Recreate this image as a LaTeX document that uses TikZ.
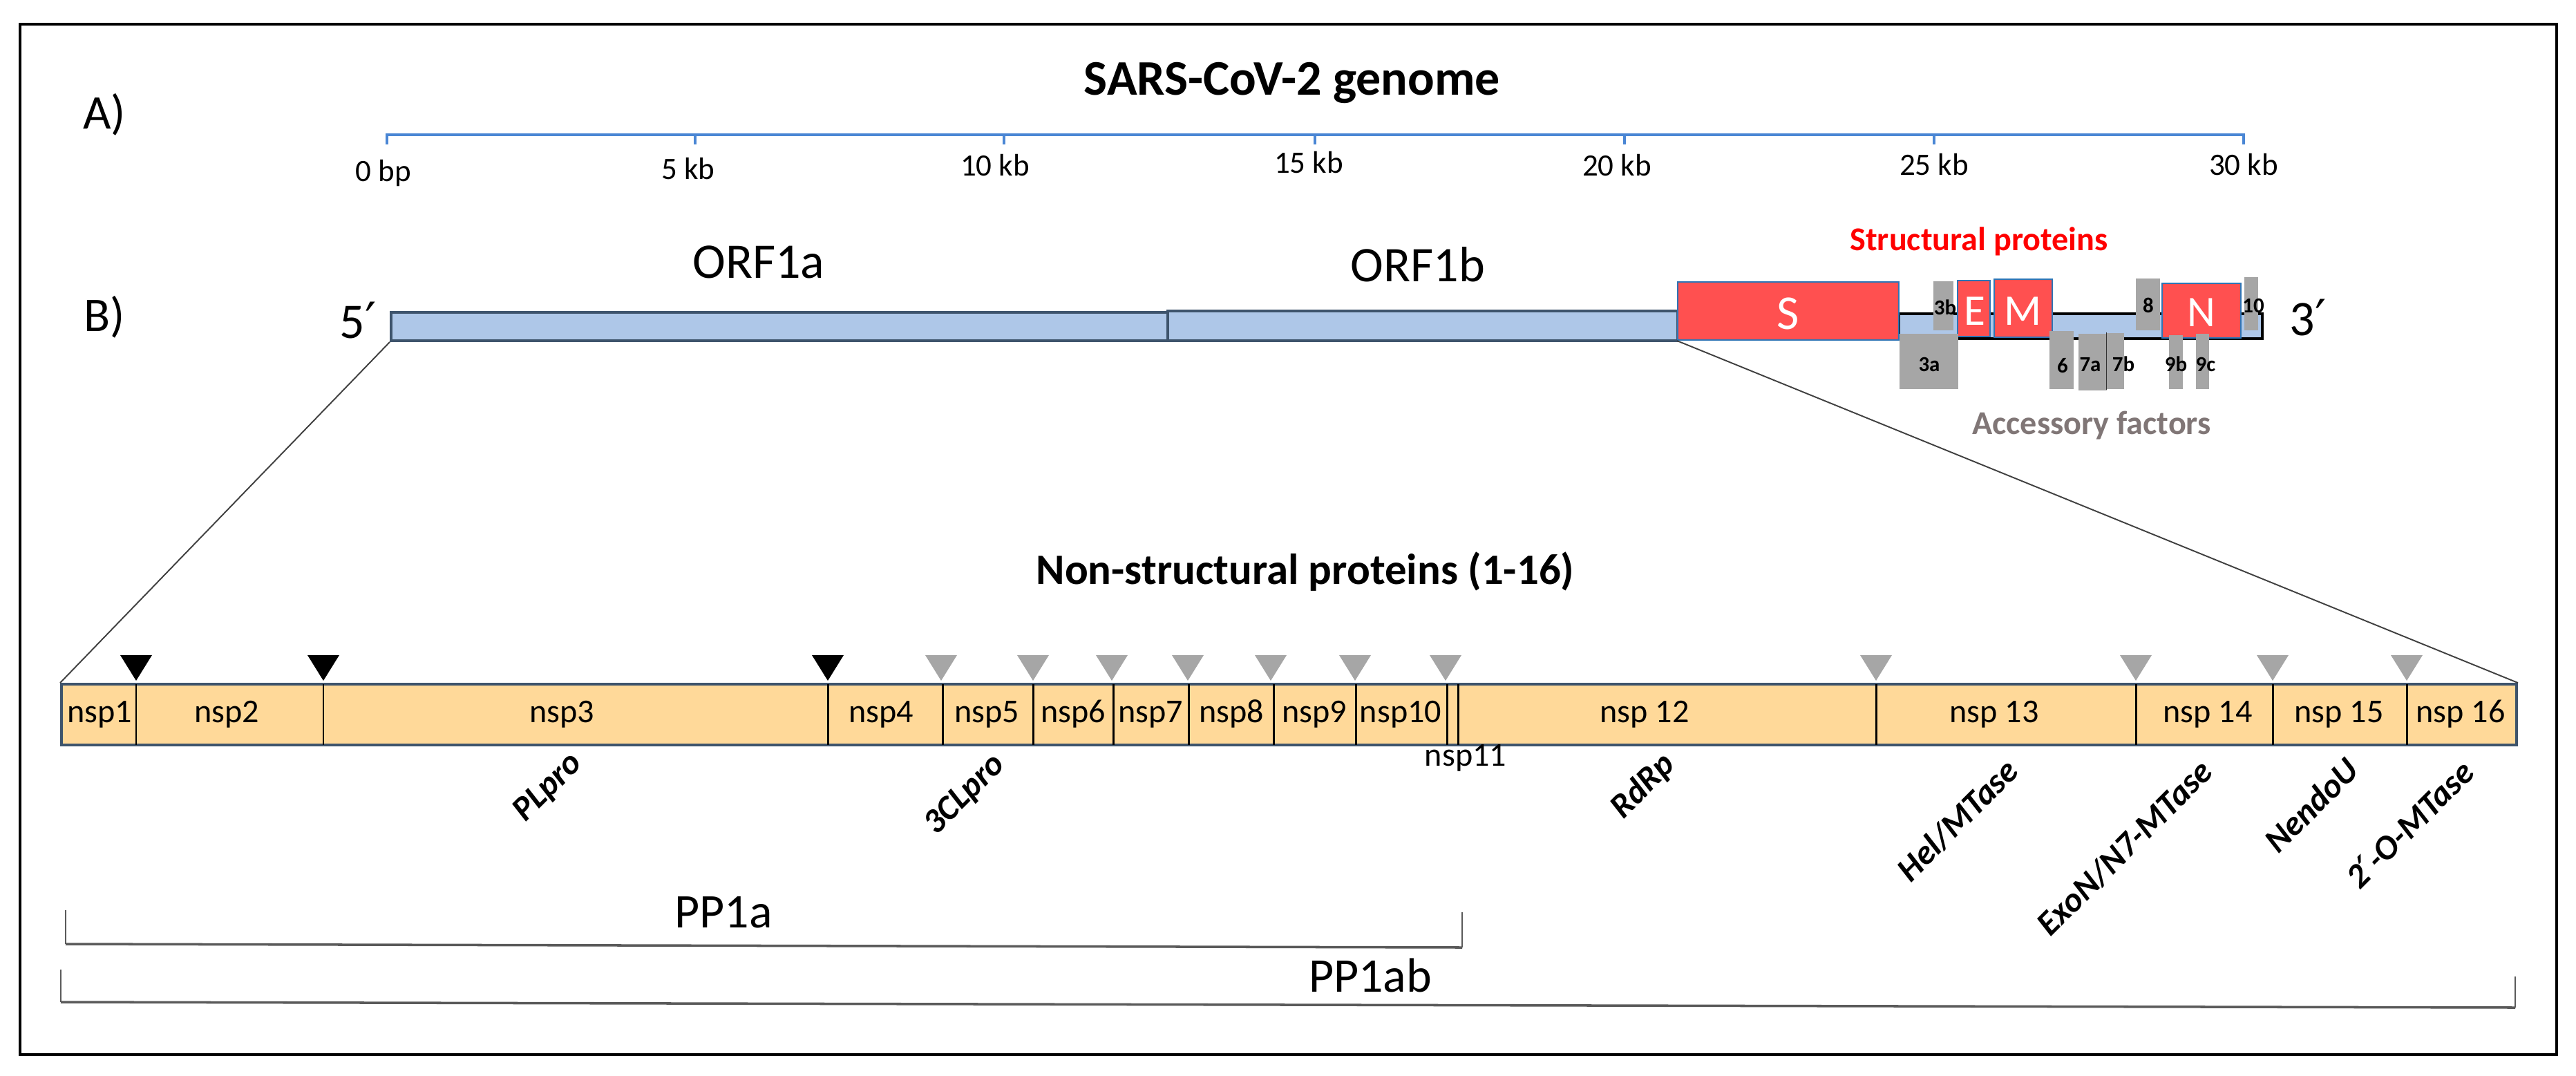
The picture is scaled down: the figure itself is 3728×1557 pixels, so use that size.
\documentclass[tikz,border=0pt]{standalone}
\usepackage{fontspec}
\setmainfont{Carlito}
\newfontfamily\primefont{DejaVu Sans}
\newcommand{\pr}{{\primefont ′}}
\usetikzlibrary{fit}

\definecolor{axisblue}{RGB}{74,134,212}
\definecolor{orffill}{RGB}{174,199,232}
\definecolor{baredge}{RGB}{62,84,108}
\definecolor{protred}{RGB}{255,80,80}
\definecolor{protedge}{RGB}{46,117,182}
\definecolor{accgrey}{RGB}{166,166,166}
\definecolor{acctext}{RGB}{128,118,118}
\definecolor{nspfill}{RGB}{255,217,153}
\definecolor{bracketgrey}{RGB}{90,90,90}

\tikzset{
  orfbar/.style={draw=baredge, fill=orffill, line width=1.1pt, inner sep=0pt},
  protbox/.style={draw=protedge, fill=protred, line width=0.6pt, inner sep=0pt},
  accbox/.style={fill=accgrey, inner sep=0pt},
  nspbar/.style={draw=baredge, fill=nspfill, line width=1.1pt, inner sep=0pt},
  cut/.style={line width=0.85pt},
  zoomline/.style={black!75, line width=0.55pt},
  bracket/.style={bracketgrey, line width=#1},
  txt/.style={inner sep=0pt, anchor=base},
  panellabel/.style={txt, font=\fontsize{19.9}{22}\selectfont},
  orflabel/.style={txt, font=\fontsize{20.5}{22}\selectfont},
  ticklabel/.style={txt, font=\fontsize{12.8}{14}\selectfont},
  grouplabel/.style={txt, font=\bfseries\fontsize{13.7}{15}\selectfont},
  protlabel/.style={txt, text=white, font=\fontsize{18}{20}\selectfont},
  acclabel/.style={txt, font=\bfseries\fontsize{8.8}{10}\selectfont},
  nsplabel/.style={txt, font=\fontsize{13.7}{15}\selectfont},
  enzlabel/.style={inner sep=0pt, rotate=45, font=\bfseries\itshape\fontsize{14.2}{16}\selectfont},
}

\begin{document}
\begin{tikzpicture}[x=0.1mm, y=-0.1mm]
  \useasboundingbox (0,0) rectangle (3728,1557);
  \draw[line width=1.1pt] (29,35) rectangle (3700,1526);

  % A) genome scale
  \node[panellabel] (panelA) at (151,186) {A)};
  \node[txt, font=\bfseries\fontsize{20.5}{22}\selectfont] (title) at (1870,137) {SARS-CoV-2 genome};
  \draw[axisblue, line width=1pt] (560,209) -- (560,195) -- (3247,195) -- (3247,209);
  \foreach \x in {1006,1453,1903,2351,2799}
    \draw[axisblue, line width=1pt] (\x,195) -- (\x,209);
  \node[ticklabel] (kb0) at (555,262) {0 bp};
  \node[ticklabel] (kb5) at (996,259) {5 kb};
  \node[ticklabel] (kb10) at (1440,254) {10 kb};
  \node[ticklabel] (kb15) at (1894,250) {15 kb};
  \node[ticklabel] (kb20) at (2340,254) {20 kb};
  \node[ticklabel] (kb25) at (2799,253) {25 kb};
  \node[ticklabel] (kb30) at (3247,253) {30 kb};

  % B) genome organisation
  \node[panellabel] (panelB) at (151,479) {B)};
  \node[orflabel] (five) at (518,489) {5\pr};
  \node[orflabel] (three) at (3340,485) {3\pr};
  \draw[line width=0.9pt, fill=orffill] (2748,454) rectangle (3274,490);
  \node[orfbar, fit={(566,452) (1690,493)}] (orf1a) {};
  \node[orfbar, fit={(1690,450) (2428,493)}] (orf1b) {};
  \node[orflabel] (orf1alabel) at (1098,402) {ORF1a};
  \node[orflabel] (orf1blabel) at (2052,407) {ORF1b};

  \node[protbox, fit={(2428,408) (2748,492)}] (S) {};
  \node[protbox, fit={(2833,406) (2880,487)}] (E) {};
  \node[protbox, fit={(2886,404) (2970,488)}] (M) {};
  \node[protbox, fit={(3129,410) (3243,489)}] (N) {};
  \node[protlabel, font=\fontsize{20}{22}\selectfont] at (2588,476) {S};
  \node[protlabel] at (2858,470) {E};
  \node[protlabel] at (2928,470) {M};
  \node[protlabel] at (3186,472) {N};

  \node[accbox, fit={(2749,483) (2834,563)}] (orf3a) {};
  \node[accbox, fit={(2798,407) (2827,478)}] (orf3b) {};
  \node[accbox, fit={(2966,479) (3001,563)}] (orf6) {};
  \node[accbox, fit={(3008,483) (3049,565)}] (orf7a) {};
  \node[accbox, fit={(3049,482) (3074,563)}] (orf7b) {};
  \node[accbox, fit={(3091,403) (3126,478)}] (orf8) {};
  \node[accbox, fit={(3139,485) (3159,563)}] (orf9b) {};
  \node[accbox, fit={(3178,483) (3197,563)}] (orf9c) {};
  \node[accbox, fit={(3248,401) (3268,478)}] (orf10) {};
  \draw[black!80, line width=0.4pt] (orf7b.north west) -- (orf7b.south west);
  \node[acclabel] at (2792,537) {3a};
  \node[acclabel] at (2815,455) {3b};
  \node[acclabel] at (2985,539) {6};
  \node[acclabel] at (3025,537) {7a};
  \node[acclabel] at (3073,537) {7b};
  \node[acclabel] at (3109,452) {8};
  \node[acclabel] at (3149,537) {9b};
  \node[acclabel] at (3192,537) {9c};
  \node[acclabel] at (3261,452) {10};

  \node[grouplabel, text=red] (structural) at (2864,362) {Structural proteins};
  \node[grouplabel, text=acctext] (accessory) at (3027,628) {Accessory factors};

  % non-structural proteins
  \node[txt, font=\bfseries\fontsize{17.9}{20}\selectfont] (nsptitle) at (1889,845) {Non-structural proteins (1-16)};
  \node[nspbar, fit={(89,990) (3642,1078)}] (nsp) {};
  \foreach \x in {197,468,1198,1364,1495,1611,1720,1843,1962,2094,2110,2715,3091,3289,3483}
    \draw[cut] (\x,990) -- (\x,1078);
  \foreach \x in {197,468,1198}
    \fill[black] (\x-23,948) -- (\x+23,948) -- (\x,985) -- cycle;
  \foreach \x in {1362,1495,1609,1719,1839,1961,2092,2715,3091,3289,3483}
    \fill[accgrey] (\x-23,948) -- (\x+23,948) -- (\x,985) -- cycle;

  \draw[zoomline] (orf1a.south west) -- (nsp.north west);
  \draw[zoomline] (S.south west) -- (nsp.north east);

  \node[nsplabel] (nsp1) at (144,1045) {nsp1};
  \node[nsplabel] (nsp2) at (328,1045) {nsp2};
  \node[nsplabel] (nsp3) at (813,1045) {nsp3};
  \node[nsplabel] (nsp4) at (1275,1045) {nsp4};
  \node[nsplabel] (nsp5) at (1428,1045) {nsp5};
  \node[nsplabel] (nsp6) at (1553,1045) {nsp6};
  \node[nsplabel] (nsp7) at (1665,1045) {nsp7};
  \node[nsplabel] (nsp8) at (1782,1045) {nsp8};
  \node[nsplabel] (nsp9) at (1902,1045) {nsp9};
  \node[nsplabel] (nsp10) at (2027,1045) {nsp10};
  \node[nsplabel] (nsp11) at (2121,1108) {nsp11};
  \node[nsplabel] (nsp12) at (2380,1045) {nsp 12};
  \node[nsplabel] (nsp13) at (2886,1045) {nsp 13};
  \node[nsplabel] (nsp14) at (3195,1045) {nsp 14};
  \node[nsplabel] (nsp15) at (3385,1045) {nsp 15};
  \node[nsplabel] (nsp16) at (3561,1045) {nsp 16};

  \node[enzlabel] (plpro) at (794,1140) {PLpro};
  \node[enzlabel] (clpro) at (1397,1150) {3CLpro};
  \node[enzlabel] (rdrp) at (2378,1138) {RdRp};
  \node[enzlabel] (hel) at (2833,1187) {Hel/MTase};
  \node[enzlabel] (exon) at (3075,1227) {ExoN/N7-MTase};
  \node[enzlabel] (nendou) at (3345,1165) {NendoU};
  \node[enzlabel] (omtase) at (3487,1192) {2\pr-O-MTase};

  % polyproteins
  \draw[bracket=0.4pt] (95,1317) -- (95,1366);
  \draw[bracket=0.4pt] (2116,1320) -- (2116,1371);
  \draw[bracket=1pt] (95,1366) -- (2116,1371);
  \node[orflabel, font=\fontsize{19.9}{22}\selectfont] (pp1a) at (1047,1342) {PP1a};
  \draw[bracket=0.4pt] (88,1403) -- (88,1450);
  \draw[bracket=0.4pt] (3640,1413) -- (3640,1458);
  \draw[bracket=1pt] (88,1450) -- (3640,1458);
  \node[orflabel, font=\fontsize{19.9}{22}\selectfont] (pp1ab) at (1983,1435) {PP1ab};
\end{tikzpicture}
\end{document}
